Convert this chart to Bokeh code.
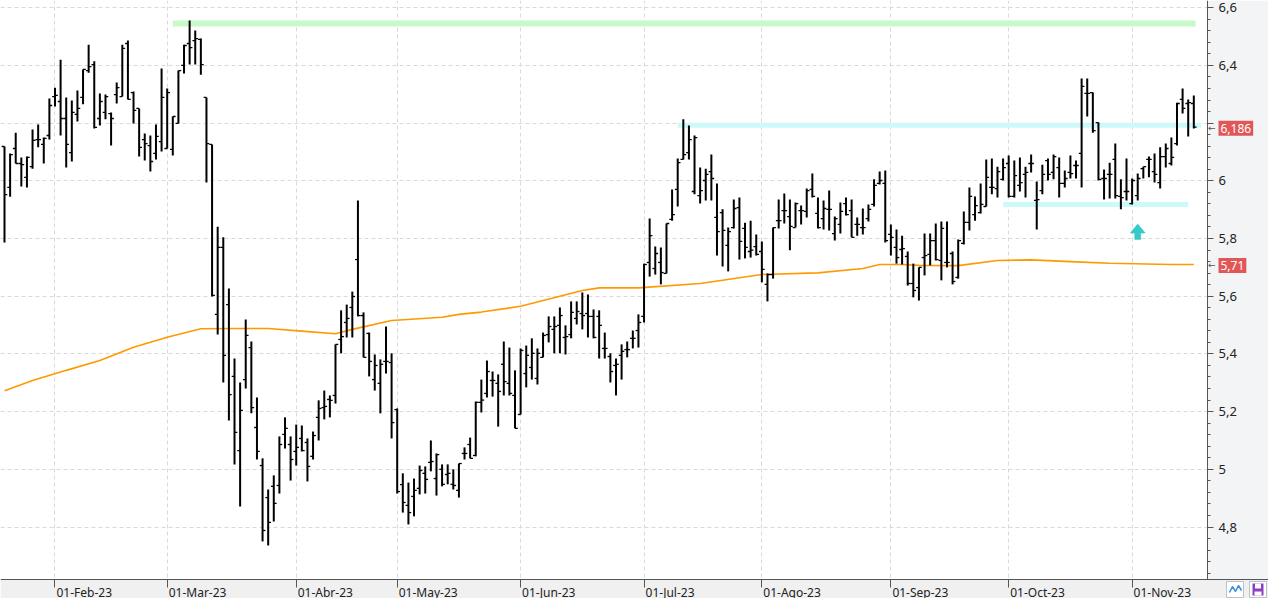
import pandas as pd
from bokeh.plotting import figure
from bokeh.models import (Range1d, FixedTicker, Label, CustomJSTickFormatter,
                          ColumnDataSource, BoxAnnotation)
from bokeh.embed import file_html
from bokeh.resources import INLINE

# ---------------- data ----------------
holidays = ["2023-04-07", "2023-04-10", "2023-05-01"]
dates = [d for d in pd.bdate_range("2023-01-19", "2023-11-16") if d.strftime("%Y-%m-%d") not in holidays]

month_labels = ["01-Feb-23", "01-Mar-23", "01-Abr-23", "01-May-23", "01-Jun-23",
                "01-Jul-23", "01-Ago-23", "01-Sep-23", "01-Oct-23", "01-Nov-23"]

y_ticks = [4.8, 5.0, 5.2, 5.4, 5.6, 5.8, 6.0, 6.2, 6.4, 6.6]
y_tick_labels = ["4,8", "5", "5,2", "5,4", "5,6", "5,8", "6", "6,2", "6,4", "6,6"]

high = [
    6.119, 6.095, 6.167, 6.081, 6.084, 6.178, 6.195, 6.150, 6.285, 6.323,
    6.420, 6.289, 6.278, 6.313, 6.386, 6.472, 6.414, 6.303, 6.299, 6.237,
    6.341, 6.472, 6.486, 6.310, 6.251, 6.164, 6.157, 6.195, 6.389, 6.320,
    6.223, 6.382, 6.472, 6.556, 6.521, 6.493, 6.289, 6.126, 5.841, 5.804,
    5.627, 5.384, 5.301, 5.519, 5.443, 5.249, 5.038, 4.930, 4.979, 5.114,
    5.180, 5.114, 5.155, 5.152, 5.107, 5.131, 5.239, 5.273, 5.256, 5.433,
    5.551, 5.571, 5.616, 5.932, 5.544, 5.474, 5.398, 5.381, 5.495, 5.402,
    5.211, 4.986, 4.954, 4.968, 5.013, 5.010, 5.100, 5.055, 5.017, 5.017,
    5.000, 5.020, 5.076, 5.110, 5.235, 5.311, 5.377, 5.339, 5.329, 5.443,
    5.422, 5.343, 5.419, 5.429, 5.454, 5.419, 5.474, 5.530, 5.530, 5.561,
    5.499, 5.582, 5.582, 5.613, 5.606, 5.554, 5.551, 5.474, 5.402, 5.384,
    5.433, 5.443, 5.481, 5.537, 5.713, 5.869, 5.772, 5.769, 5.852, 5.970,
    6.077, 6.213, 6.192, 6.157, 6.046, 6.042, 6.091, 5.991, 5.901, 5.838,
    5.935, 5.942, 5.855, 5.862, 5.814, 5.790, 5.679, 5.838, 5.935, 5.956,
    5.935, 5.925, 5.914, 5.973, 6.025, 5.942, 5.932, 5.966, 5.876, 5.925,
    5.942, 5.935, 5.873, 5.904, 5.918, 6.005, 6.032, 6.036, 5.849, 5.831,
    5.810, 5.755, 5.713, 5.700, 5.817, 5.817, 5.852, 5.859, 5.859, 5.755,
    5.797, 5.894, 5.977, 5.946, 5.991, 6.074, 6.077, 6.049, 6.077, 6.088,
    6.070, 6.081, 6.049, 6.091, 5.998, 6.056, 6.077, 6.091, 6.081, 6.036,
    6.088, 6.070, 6.355, 6.355, 6.306, 6.202, 6.039, 6.063, 6.129, 6.005,
    6.077, 6.008, 6.025, 6.049, 6.084, 6.095, 6.116, 6.129, 6.150, 6.271,
    6.320, 6.282, 6.296]

low = [
    5.786, 5.945, 6.060, 5.980, 5.977, 6.042, 6.116, 6.060, 6.143, 6.258,
    6.157, 6.046, 6.067, 6.206, 6.265, 6.375, 6.181, 6.192, 6.213, 6.122,
    6.268, 6.292, 6.282, 6.199, 6.084, 6.070, 6.032, 6.074, 6.102, 6.112,
    6.088, 6.199, 6.372, 6.403, 6.403, 6.368, 5.994, 5.599, 5.467, 5.301,
    5.169, 5.017, 4.871, 5.280, 5.194, 5.034, 4.750, 4.736, 4.819, 4.916,
    5.072, 4.961, 5.013, 5.062, 4.958, 5.034, 5.100, 5.173, 5.180, 5.228,
    5.402, 5.457, 5.457, 5.530, 5.388, 5.322, 5.273, 5.194, 5.332, 5.107,
    4.916, 4.850, 4.809, 4.837, 4.913, 4.916, 4.993, 4.909, 4.941, 4.948,
    4.930, 4.902, 5.034, 5.038, 5.045, 5.197, 5.249, 5.252, 5.148, 5.256,
    5.256, 5.142, 5.190, 5.284, 5.311, 5.294, 5.388, 5.440, 5.402, 5.402,
    5.398, 5.454, 5.502, 5.485, 5.457, 5.454, 5.384, 5.384, 5.301, 5.256,
    5.311, 5.388, 5.419, 5.422, 5.509, 5.668, 5.675, 5.641, 5.679, 5.862,
    5.911, 6.074, 6.074, 5.953, 5.921, 5.932, 5.932, 5.741, 5.703, 5.686,
    5.835, 5.727, 5.731, 5.734, 5.741, 5.648, 5.582, 5.661, 5.835, 5.852,
    5.759, 5.838, 5.849, 5.873, 5.942, 5.835, 5.831, 5.828, 5.793, 5.817,
    5.880, 5.804, 5.810, 5.814, 5.859, 5.911, 5.987, 5.786, 5.741, 5.713,
    5.710, 5.637, 5.596, 5.585, 5.672, 5.707, 5.724, 5.655, 5.700, 5.641,
    5.661, 5.779, 5.828, 5.862, 5.887, 5.911, 5.953, 5.942, 6.001, 5.942,
    5.942, 5.963, 5.942, 6.029, 5.831, 5.953, 6.001, 6.005, 5.942, 5.977,
    6.008, 6.008, 5.977, 6.223, 6.167, 6.001, 5.935, 5.939, 5.939, 5.901,
    5.932, 5.918, 5.932, 6.008, 6.012, 5.994, 5.973, 6.046, 6.053, 6.122,
    6.233, 6.154, 6.181]

open_ = [
    6.119, 5.977, 6.112, 6.060, 6.012, 6.049, 6.143, 6.126, 6.157, 6.292,
    6.275, 6.216, 6.098, 6.230, 6.289, 6.382, 6.403, 6.216, 6.237, 6.233,
    6.299, 6.292, 6.476, 6.306, 6.251, 6.143, 6.122, 6.095, 6.136, 6.112,
    6.109, 6.199, 6.400, 6.476, 6.486, 6.490, 6.289, 6.126, 5.537, 5.769,
    5.571, 5.322, 5.065, 5.311, 5.422, 5.145, 5.013, 4.902, 4.941, 4.944,
    5.121, 5.086, 5.062, 5.107, 5.093, 5.045, 5.180, 5.214, 5.242, 5.256,
    5.450, 5.509, 5.561, 5.727, 5.533, 5.471, 5.311, 5.298, 5.374, 5.370,
    5.207, 4.947, 4.875, 4.906, 4.934, 4.986, 5.024, 4.968, 5.000, 4.982,
    4.948, 4.927, 5.055, 5.086, 5.048, 5.232, 5.263, 5.308, 5.298, 5.364,
    5.298, 5.256, 5.190, 5.332, 5.353, 5.315, 5.388, 5.467, 5.485, 5.499,
    5.457, 5.467, 5.523, 5.540, 5.540, 5.530, 5.530, 5.419, 5.391, 5.360,
    5.395, 5.415, 5.454, 5.481, 5.530, 5.717, 5.696, 5.717, 5.679, 5.866,
    5.970, 6.074, 6.098, 5.963, 5.949, 6.001, 6.032, 5.873, 5.890, 5.776,
    5.838, 5.907, 5.835, 5.755, 5.772, 5.755, 5.641, 5.675, 5.862, 5.897,
    5.876, 5.838, 5.897, 5.894, 5.970, 5.887, 5.869, 5.901, 5.817, 5.849,
    5.921, 5.897, 5.849, 5.838, 5.869, 5.918, 5.991, 5.991, 5.814, 5.769,
    5.762, 5.738, 5.644, 5.630, 5.734, 5.745, 5.793, 5.724, 5.717, 5.748,
    5.665, 5.783, 5.856, 5.883, 5.890, 5.911, 5.977, 5.973, 6.005, 6.060,
    5.946, 5.984, 6.022, 6.060, 5.932, 5.966, 6.070, 6.029, 6.046, 5.991,
    6.029, 6.053, 6.095, 6.303, 6.306, 6.202, 6.008, 6.022, 6.074, 5.946,
    5.963, 5.921, 5.949, 6.042, 6.074, 6.032, 5.994, 6.084, 6.060, 6.129,
    6.282, 6.268, 6.268]

close = [
    5.952, 6.091, 6.060, 6.056, 6.081, 6.140, 6.143, 6.147, 6.261, 6.296,
    6.216, 6.126, 6.237, 6.251, 6.386, 6.396, 6.185, 6.275, 6.292, 6.216,
    6.323, 6.459, 6.282, 6.244, 6.116, 6.129, 6.067, 6.154, 6.289, 6.306,
    6.223, 6.382, 6.469, 6.462, 6.493, 6.403, 6.129, 5.603, 5.769, 5.395,
    5.259, 5.128, 5.204, 5.464, 5.214, 5.062, 4.788, 4.816, 4.882, 5.086,
    5.142, 5.034, 5.076, 5.065, 5.010, 5.117, 5.211, 5.218, 5.239, 5.433,
    5.460, 5.523, 5.599, 5.533, 5.388, 5.374, 5.360, 5.364, 5.374, 5.162,
    4.923, 4.885, 4.850, 4.927, 4.996, 4.965, 5.027, 5.051, 4.948, 4.986,
    4.944, 5.020, 5.055, 5.038, 5.232, 5.240, 5.339, 5.308, 5.270, 5.304,
    5.263, 5.142, 5.412, 5.395, 5.402, 5.402, 5.464, 5.495, 5.495, 5.533,
    5.460, 5.544, 5.547, 5.533, 5.530, 5.457, 5.499, 5.419, 5.339, 5.364,
    5.409, 5.415, 5.454, 5.509, 5.710, 5.810, 5.748, 5.682, 5.852, 5.883,
    6.063, 6.091, 6.143, 6.150, 5.966, 6.022, 6.008, 5.824, 5.828, 5.824,
    5.904, 5.790, 5.769, 5.760, 5.745, 5.693, 5.675, 5.838, 5.862, 5.897,
    5.842, 5.921, 5.897, 5.966, 5.946, 5.838, 5.904, 5.901, 5.869, 5.894,
    5.883, 5.804, 5.849, 5.838, 5.901, 5.984, 6.001, 5.793, 5.804, 5.734,
    5.765, 5.644, 5.620, 5.700, 5.741, 5.793, 5.727, 5.835, 5.717, 5.651,
    5.793, 5.856, 5.946, 5.914, 5.918, 6.012, 5.977, 6.032, 6.046, 5.946,
    6.018, 5.994, 6.029, 6.060, 5.935, 6.022, 6.022, 6.084, 5.991, 6.008,
    6.025, 6.053, 6.327, 6.303, 6.174, 6.005, 6.008, 6.022, 5.949, 5.942,
    5.963, 6.001, 6.008, 6.049, 6.074, 6.022, 6.084, 6.112, 6.081, 6.268,
    6.251, 6.271, 6.186]

# moving average (sampled along the bar index)
ma_idx = [0, 5, 11, 17, 23, 29, 35, 41, 47, 53, 59, 62, 69, 78, 81, 85, 92, 103, 106, 113,
          124, 135, 145, 153, 156, 160, 163, 170, 177, 183, 191, 197, 208, 212]
ma_val = [5.272, 5.308, 5.343, 5.377, 5.423, 5.458, 5.487, 5.488, 5.488, 5.479, 5.470, 5.485,
          5.516, 5.527, 5.537, 5.545, 5.565, 5.620, 5.629, 5.629, 5.644, 5.675, 5.681, 5.696,
          5.710, 5.710, 5.707, 5.706, 5.724, 5.726, 5.719, 5.714, 5.710, 5.710]

# drawn support / resistance levels (bar index from, to, price)
level_from = [30, 120, 178]
level_to = [212.3, 213.3, 211.0]
level_price = [6.545, 6.193, 5.918]
level_color = ["#c8f9c8", "#ccfafa", "#ccfafa"]

# drawn arrow (bar index, from price, to price)
arrow_idx = 202
arrow_from = 5.797
arrow_to = 5.850

last_close = 6.186
last_ma = 5.71

# ---------------- layout constants (pixels) ----------------
W, H = 1268, 598            # canvas
PLOT_W, PLOT_H = 1207, 579  # price area
PX_PER_BAR = 5.61
PX_PER_UNIT = 288.5
X0 = -0.713                 # bar index at left edge
Y0 = 6.625                  # price at top edge


def px2x(px):
    return X0 + px / PX_PER_BAR


def px2y(py):
    return Y0 - py / PX_PER_UNIT


def dx(px):
    return px / PX_PER_BAR


def dy(px):
    return px / PX_PER_UNIT


n = len(dates)
xs = list(range(n))
tick_idx = [i for i in range(1, n) if dates[i].month != dates[i - 1].month]

FONT = "Noto Sans"
AX = "#555555"
p = figure(frame_width=W, frame_height=H,
           x_range=Range1d(px2x(0), px2x(W)), y_range=Range1d(px2y(H), Y0),
           output_backend="svg", toolbar_location=None, y_axis_location="right",
           min_border=0, background_fill_color="white", border_fill_color="white",
           outline_line_color=None)

yaxis_loc = px2x(PLOT_W)
xaxis_loc = px2y(PLOT_H)

# grids
p.xgrid.ticker = FixedTicker(ticks=tick_idx)
p.ygrid.ticker = FixedTicker(ticks=y_ticks)
for g in (p.xgrid, p.ygrid):
    g.grid_line_color = "#d9d9d9"
    g.grid_line_dash = "4 3"
    g.grid_line_width = 1

# axis panels
p.add_layout(BoxAnnotation(left=yaxis_loc, bottom=xaxis_loc, fill_color="#f3f4f6", fill_alpha=1,
                           line_color=None, level="underlay"))
p.add_layout(BoxAnnotation(top=xaxis_loc, fill_color="#f0f0f0", fill_alpha=1,
                           line_color=None, level="underlay"))

# right axis (a tick label hidden under the last-price box is left empty, as in the original)
yax = p.yaxis[0]
yax.fixed_location = yaxis_loc
yax.bounds = (xaxis_loc, Y0)
yax.ticker = FixedTicker(ticks=y_ticks,
                         minor_ticks=[round(4.64 + 0.04 * i, 2) for i in range(50)])
yax.formatter = CustomJSTickFormatter(
    args=dict(yt=y_ticks, yl=y_tick_labels, hide=[last_close, last_ma]), code="""
for (const h of hide) { if (Math.abs(h - tick) < 0.03) return ""; }
let best = 0, d = 1e9;
for (let i = 0; i < yt.length; i++) { const e = Math.abs(yt[i] - tick); if (e < d) { d = e; best = i; } }
return yl[best];
""")
yax.major_tick_out = 6
yax.major_tick_in = 0
yax.minor_tick_out = 3
yax.minor_tick_in = 0
yax.axis_line_color = AX
yax.major_tick_line_color = AX
yax.minor_tick_line_color = AX
yax.major_label_text_font = FONT
yax.major_label_text_font_size = "13px"
yax.major_label_text_color = "#222222"
yax.major_label_standoff = 5

# bottom axis (line + ticks; labels drawn separately, left aligned)
xax = p.xaxis[0]
xax.fixed_location = xaxis_loc
xax.ticker = FixedTicker(ticks=tick_idx, minor_ticks=[])
xax.major_tick_out = 8
xax.major_tick_in = 0
xax.major_label_text_color = None
xax.major_label_standoff = 0
xax.axis_line_color = AX
xax.major_tick_line_color = AX

for t, lab in zip(tick_idx, month_labels):
    p.add_layout(Label(x=t, y=px2y(591.5), text=lab,
                       text_font=FONT, text_font_size="12px", text_color="#222222",
                       x_offset=1.5, text_baseline="middle"))

# levels
p.segment(x0=level_from, y0=level_price, x1=level_to, y1=level_price,
          line_color=level_color, line_width=[6, 5, 5])

# moving average
p.line(ma_idx, ma_val, line_color="#ff9900", line_width=1.6)

# OHLC bars
src = ColumnDataSource(dict(x=xs, high=high, low=low, open=open_, close=close,
                            xl=[v - 0.5 for v in xs], xr=[v + 0.5 for v in xs]))
p.segment(x0="x", y0="low", x1="x", y1="high", source=src, line_color="black", line_width=2)
p.segment(x0="xl", y0="open", x1="x", y1="open", source=src, line_color="black", line_width=1.3)
p.segment(x0="x", y0="close", x1="xr", y1="close", source=src, line_color="black", line_width=1.3)

# drawn arrow
teal = "#35c9c9"
head = arrow_to - dy(9)
ax_pts = [arrow_idx, arrow_idx + dx(7.5), arrow_idx + dx(3), arrow_idx + dx(3),
          arrow_idx - dx(3), arrow_idx - dx(3), arrow_idx - dx(7.5)]
ay_pts = [arrow_to, head, head, arrow_from, arrow_from, head, head]
p.patch(ax_pts, ay_pts, fill_color=teal, line_color=teal, line_width=0.5)

# last value markers
for val, txt in ((last_close, "6,186"), (last_ma, "5,71")):
    p.add_layout(Label(x=PLOT_W + 0.5, y=val, x_units="screen", text="←",
                       text_font="DejaVu Sans", text_font_size="9px", text_color="#555555",
                       text_baseline="middle", y_offset=-1))
    p.add_layout(Label(x=PLOT_W + 11, y=val, x_units="screen", text=txt,
                       text_font=FONT, text_font_size="12px", text_color="white",
                       text_baseline="middle", background_fill_color="#e15757",
                       background_fill_alpha=1, padding=(2, 3), y_offset=-1))

# small toolbar icons (bottom right)
p.quad(left=[px2x(1226), px2x(1249)], right=[px2x(1243), px2x(1266)],
       bottom=[px2y(597), px2y(597)], top=[px2y(581), px2y(581)],
       fill_color="white", line_color="#b9c3cf", line_width=1)
p.line([px2x(1229), px2x(1232), px2x(1235), px2x(1238), px2x(1241)],
       [px2y(592), px2y(586), px2y(591), px2y(585), px2y(590)],
       line_color="#3d8fd6", line_width=1.5)
p.quad(left=[px2x(1252)], right=[px2x(1263)], bottom=[px2y(595)], top=[px2y(583)],
       fill_color="#8a3fc4", line_color=None)
p.quad(left=[px2x(1254.5), px2x(1254)], right=[px2x(1260.5), px2x(1261)],
       bottom=[px2y(588), px2y(595)], top=[px2y(583), px2y(591)],
       fill_color="white", line_color=None)

open("out.html", "w").write(file_html(p, INLINE))
